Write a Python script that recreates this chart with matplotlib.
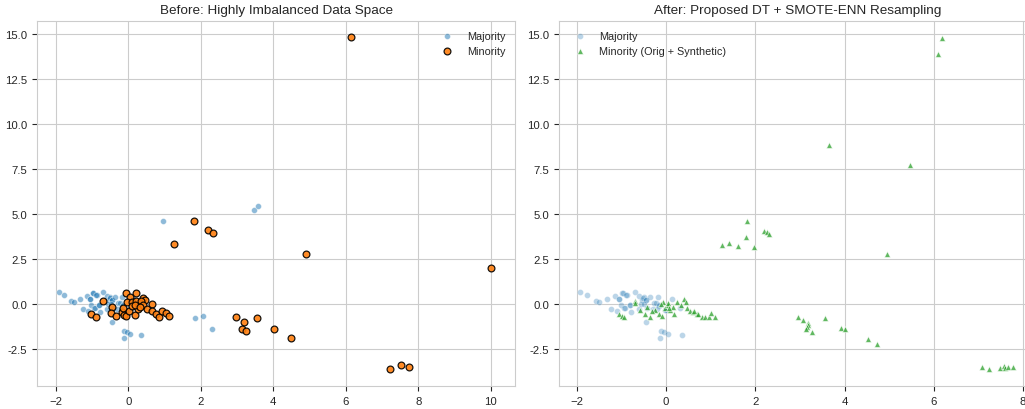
import matplotlib
matplotlib.use("Agg")
import matplotlib.pyplot as plt
import seaborn as sns

# majority class: dense cluster near the origin (kept by ENN)
maj_core_x = [-1.92, -1.78, -1.57, -1.50, -1.32, -1.15, -0.98, -0.97, -0.87, -0.89,
              -0.69, -0.60, -1.05, -1.06, -1.02, -1.24, -1.10, -0.94, -0.92, -0.79,
              -0.80, -0.82, -0.60, -0.55, -0.50, -0.51, -0.46, -0.45, -0.56, -0.49,
              -0.43, -0.30, -0.37, -0.18, -0.28, -0.23, -0.17, -0.16, -0.21, -0.02,
              -0.01, 0.13, 0.30, -0.46, -0.11, -0.05, 0.05, -0.13, 0.35]
maj_core_y = [0.69, 0.48, 0.19, 0.08, 0.27, 0.45, 0.63, 0.61, 0.49, 0.51,
              0.65, 0.45, 0.30, 0.28, -0.06, -0.26, -0.38, -0.20, -0.20, -0.43,
              -0.06, -0.04, -0.30, 0.22, 0.36, 0.35, 0.22, 0.21, 0.02, 0.00,
              -0.24, -0.28, 0.36, 0.36, 0.04, 0.05, -0.09, -0.08, -0.30, -0.33,
              -0.32, 0.28, -0.24, -0.99, -1.51, -1.58, -1.68, -1.92, -1.73]

# majority points removed by the cleaning step
maj_noise_x = [1.84, 2.07, 2.30, 0.96, 3.47, 3.58]
maj_noise_y = [-0.79, -0.67, -1.41, 4.59, 5.21, 5.43]

# original minority class
min_x = [-0.06, 0.05, 0.20, -0.04, 0.09, 0.21, 0.41, 0.46, -0.69, -1.03,
         -0.89, -0.46, -0.48, -0.35, -0.18, -0.12, -0.07, 0.03, 0.09, 0.18,
         0.26, 0.35, 0.40, 0.52, 0.65, 0.66, 0.76, 0.86, 0.93, 1.03,
         1.12, -0.15, 0.18, 0.32,
         1.26, 1.81, 2.20, 2.33, 4.91, 2.97, 3.19, 3.13, 3.26, 3.56,
         4.02, 4.50, 7.22, 7.53, 7.74, 6.14, 10.02]
min_y = [0.59, 0.41, 0.59, 0.13, 0.13, 0.17, 0.32, 0.22, 0.17, -0.56,
         -0.72, -0.18, -0.52, -0.65, -0.46, -0.61, -0.67, -0.39, -0.09, -0.61,
         -0.29, 0.17, -0.06, -0.28, -0.02, -0.42, -0.57, -0.70, -0.42, -0.53,
         -0.67, -0.25, -0.06, -0.15,
         3.32, 4.63, 4.09, 3.93, 2.80, -0.72, -1.03, -1.39, -1.53, -0.76,
         -1.39, -1.92, -3.59, -3.42, -3.52, 14.82, 1.98]

# minority after SMOTE-ENN (original + synthetic)
res_min_x = [6.18, 6.10, 3.64, 5.46,
             1.81, 1.25, 1.42, 1.61, 1.79, 1.96, 2.19, 2.25, 2.31, 4.94,
             -0.69, -1.05, -0.99, -0.94, -0.47, -0.37, -0.58, -0.43, -0.25, -0.17,
             -0.10, -0.07, -0.02, 0.05, 0.09, 0.15, 0.18, 0.24, 0.33, 0.40,
             0.45, 0.46, 0.54, 0.61, 0.70, 0.80, 0.87, 0.95, 1.00, 1.10,
             -0.69, -0.32, -0.11, 0.04, 0.07, 0.63, 0.72,
             2.96, 3.06, 3.17, 3.19, 3.15, 3.13, 3.27, 3.57, 3.91, 4.01,
             4.52, 4.72,
             7.08, 7.24, 7.48, 7.57, 7.59, 7.67, 7.78]
res_min_y = [14.75, 13.90, 8.83, 7.71,
             4.61, 3.28, 3.41, 3.24, 3.74, 3.19, 4.06, 3.98, 3.89, 2.78,
             0.17, -0.57, -0.65, -0.72, -0.57, -0.70, -0.33, -0.15, -0.33, -0.57,
             -0.65, 0.13, -0.20, -0.06, -0.33, -0.15, -0.57, 0.10, -0.06, 0.28,
             0.13, -0.24, -0.39, -0.46, -0.57, -0.70, -0.74, -0.74, -0.52, -0.70,
             0.04, -0.42, 0.00, 0.04, -0.24, -0.42, -0.57,
             -0.74, -0.89, -1.07, -1.17, -1.28, -1.41, -1.57, -0.78, -1.35, -1.41,
             -1.94, -2.24,
             -3.53, -3.61, -3.57, -3.46, -3.57, -3.50, -3.53]

sns.set_style("whitegrid", {"xtick.bottom": True, "ytick.left": True})
plt.rcParams['font.family'] = ['Liberation Sans', 'DejaVu Sans']

fig = plt.figure(figsize=(10.25, 4.1), dpi=100)
ax1 = fig.add_axes([37 / 1025, 23 / 410, 478 / 1025, 365 / 410])
ax2 = fig.add_axes([559 / 1025, 23 / 410, 478 / 1025, 365 / 410])

# Before
ax1.scatter(maj_core_x + maj_noise_x, maj_core_y + maj_noise_y, s=18,
            color='#1f77b4', alpha=0.5, edgecolor='white', linewidth=0.5,
            label='Majority')
ax1.scatter(min_x, min_y, s=24, color='#ff7f0e', alpha=0.9, edgecolor='black',
            linewidth=0.9, label='Minority')
ax1.set_title('Before: Highly Imbalanced Data Space', fontsize=9.7)
ax1.legend(loc='upper right', fontsize=7.8, frameon=False)
ax1.set_xlim(-2.52, 10.67)

# After
ax2.scatter(maj_core_x, maj_core_y, s=18, color='#1f77b4', alpha=0.3,
            edgecolor='white', linewidth=0.5, label='Majority')
ax2.scatter(res_min_x, res_min_y, s=18, marker='^', color='#2ca02c', alpha=0.75,
            edgecolor='white', linewidth=0.5,
            label='Minority (Orig + Synthetic)')
ax2.set_title('After: Proposed DT + SMOTE-ENN Resampling', fontsize=9.7)
ax2.legend(loc='upper left', fontsize=7.8, frameon=False)
ax2.set_xlim(-2.40, 8.31)

for ax in (ax1, ax2):
    ax.set_ylim(-4.56, 15.72)
    ax.set_yticks([-2.5, 0.0, 2.5, 5.0, 7.5, 10.0, 12.5, 15.0])
    ax.set_yticklabels(['-2.5', '0.0', '2.5', '5.0', '7.5', '10.0', '12.5', '15.0'])
    ax.tick_params(labelsize=8.2, length=3.5, width=0.8)
    ax.set_axisbelow(True)

fig.savefig('out.png', dpi=100)
